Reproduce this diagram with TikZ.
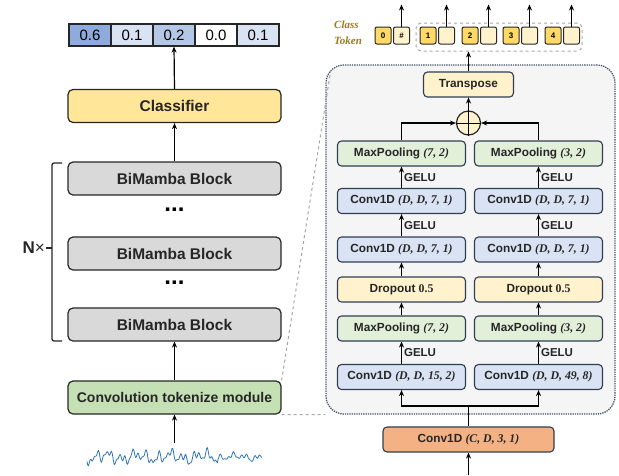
\documentclass[tikz,border=0pt]{standalone}
\usepackage{fontspec}
\setmainfont{Liberation Sans}
\newfontfamily\serifparam{Liberation Serif}
\usetikzlibrary{arrows.meta, positioning, calc}
\definecolor{inkdark}{HTML}{262626}
\definecolor{inknavy}{HTML}{2F3E52}
\definecolor{barhigh}{HTML}{8FAADC}
\definecolor{barmid}{HTML}{B4C7E7}
\definecolor{barlow}{HTML}{DAE3F3}
\definecolor{fillgold}{HTML}{FFE699}
\definecolor{fillcream}{HTML}{FFF2CC}
\definecolor{filltoken}{HTML}{FFD966}
\definecolor{fillgray}{HTML}{D9D9D9}
\definecolor{fillgreen}{HTML}{C5E0B4}
\definecolor{fillmint}{HTML}{E2F0D9}
\definecolor{fillblue}{HTML}{DAE3F3}
\definecolor{fillorange}{HTML}{F4B183}
\definecolor{panelbg}{HTML}{F5F5F5}
\definecolor{paneledge}{HTML}{44546A}
\definecolor{zoomgray}{HTML}{A6A6A6}
\definecolor{signalblue}{HTML}{2E75B6}
\definecolor{tokentext}{HTML}{9C7A1A}
\newcommand{\prm}[1]{{\serifparam\bfseries\itshape #1}}
\newcommand{\archbox}[4]{%
  \node[draw=inkdark, line width=1.2pt, rounded corners=5pt, fill=#3,
        minimum width=213pt, minimum height=33pt, inner sep=0pt,
        font=\fontsize{15.5}{18}\selectfont\bfseries, text=inkdark] (#1) at (174.5,#2) {#4};}
\newcommand{\layerbox}[5]{%
  \node[draw=inknavy, line width=1.1pt, rounded corners=4pt, fill=#4,
        minimum width=128pt, minimum height=25pt, inner sep=0pt,
        font=\fontsize{11.8}{14}\selectfont\bfseries, text=inkdark] (#1) at (#2,#3) {#5};}

\begin{document}
\begin{tikzpicture}[x=1pt, y=-1pt,
    arr/.style={-{Stealth[length=6pt, width=5pt]}, line width=1.2pt},
    gelu/.style={font=\fontsize{11.5}{13}\selectfont\bfseries, inner sep=2pt, text=inkdark},
    tok/.style={draw=inkdark, line width=1pt, rounded corners=2pt, minimum width=16pt,
                minimum height=17pt, inner sep=0pt, font=\fontsize{8}{9}\selectfont\bfseries}]
  \useasboundingbox (0,0) rectangle (619,475);

  % output scores
  \foreach \i/\v/\c in {1/0.6/barhigh, 2/0.1/barlow, 3/0.2/barmid, 4/0.0/white, 5/0.1/barlow}
    \node[draw=inkdark, line width=1.2pt, fill=\c, minimum width=42pt, minimum height=22pt,
          inner sep=0pt, font=\fontsize{15}{17}\selectfont] (c\i) at (48+42*\i,35) {\v};

  % main stack
  \archbox{cls}{106}{fillgold}{Classifier}
  \archbox{bm1}{178.5}{fillgray}{BiMamba Block}
  \node[font=\fontsize{24}{24}\selectfont\bfseries, inner sep=0pt] (dots1) at (174.5,210) {...};
  \archbox{bm2}{253.5}{fillgray}{BiMamba Block}
  \node[font=\fontsize{24}{24}\selectfont\bfseries, inner sep=0pt] (dots2) at (174.5,283) {...};
  \archbox{bm3}{324.5}{fillgray}{BiMamba Block}
  \archbox{ctm}{397.5}{fillgreen}{\fontsize{14}{16}\selectfont Convolution tokenize module}

  \draw[arr] (bm1.north) -- (cls.south);
  \draw[arr] (cls.north) -- (c3.south);
  \draw[arr] (ctm.north) -- (bm3.south);
  \coordinate (sigtop) at (174.5,443);
  \draw[arr] (sigtop) -- (ctm.south);

  % input signal
  \draw[signalblue, line width=0.8pt] plot[domain=0:175, samples=260]
    (87+\x, {457 + (1-0.45*(\x>131))*(3.5*sin(29*\x) + 2.5*sin(53*\x+40) + 2*sin(83*\x+10) + 2.5*sin(11*\x+70))});

  % repeat bracket
  \draw[line width=1.3pt, rounded corners=2pt, inkdark] (62,163) -- (52,163) -- (52,341) -- (62,341);
  \coordinate (brmid) at (52,248);
  \draw[line width=1.3pt, inkdark] (brmid) -- ++(-6,0) coordinate (brtip);
  \node[left, inner sep=1pt, font=\fontsize{17}{19}\selectfont, text=inkdark] (nrep) at (brtip) {\textbf{N}×};

  % zoomed module
  \node[draw=paneledge, densely dotted, line width=1.3pt, fill=panelbg, rounded corners=18pt,
        minimum width=289pt, minimum height=349pt, inner sep=0pt] (panel) at (470.5,239.5) {};
  \draw[zoomgray, dashed, line width=1pt] (ctm.north east) -- ($(panel.north west)+(5.5,5.5)$);
  \draw[zoomgray, dashed, line width=1pt] (ctm.south east) -- (panel.south west);

  \layerbox{l1}{401.5}{153.5}{fillmint}{MaxPooling \prm{(7, 2)}}
  \layerbox{r1}{538.5}{153.5}{fillmint}{MaxPooling \prm{(3, 2)}}
  \layerbox{l2}{401.5}{201}{fillblue}{Conv1D \prm{(D, D, 7, 1)}}
  \layerbox{r2}{538.5}{201}{fillblue}{Conv1D \prm{(D, D, 7, 1)}}
  \layerbox{l3}{401.5}{249.5}{fillblue}{Conv1D \prm{(D, D, 7, 1)}}
  \layerbox{r3}{538.5}{249.5}{fillblue}{Conv1D \prm{(D, D, 7, 1)}}
  \layerbox{l4}{401.5}{289.5}{fillcream}{Dropout {\serifparam\bfseries 0.5}}
  \layerbox{r4}{538.5}{289.5}{fillcream}{Dropout {\serifparam\bfseries 0.5}}
  \layerbox{l5}{401.5}{328.5}{fillmint}{MaxPooling \prm{(7, 2)}}
  \layerbox{r5}{538.5}{328.5}{fillmint}{MaxPooling \prm{(3, 2)}}
  \layerbox{l6}{401.5}{377}{fillblue}{Conv1D \prm{(D, D, 15, 2)}}
  \layerbox{r6}{538.5}{377}{fillblue}{Conv1D \prm{(D, D, 49, 8)}}

  \node[draw=inknavy, line width=1.1pt, rounded corners=4pt, fill=fillorange,
        minimum width=171pt, minimum height=25pt, inner sep=0pt,
        font=\fontsize{11.8}{14}\selectfont\bfseries, text=inkdark] (cin) at (468.5,439.5) {Conv1D \prm{(C, D, 3, 1)}};
  \coordinate (cinbot) at (468.5,475);
  \draw[arr] (cinbot) -- (cin.south);
  \coordinate (split) at (468.5,406);
  \draw[line width=1.2pt] (cin.north) -- (split);
  \draw[arr] (split) -| (l6.south);
  \draw[arr] (split) -| (r6.south);

  \foreach \s in {l, r} {
    \draw[arr] (\s6) -- node[gelu, right] {GELU} (\s5);
    \draw[arr] (\s5) -- (\s4);
    \draw[arr] (\s4) -- (\s3);
    \draw[arr] (\s3) -- node[gelu, right] {GELU} (\s2);
    \draw[arr] (\s2) -- node[gelu, right] {GELU} (\s1);
  }

  \node[circle, draw=inkdark, line width=1.2pt, fill=fillcream, minimum size=24pt, inner sep=0pt] (plus) at (468.5,123) {};
  \draw[line width=1pt] (plus.north) -- (plus.south) (plus.west) -- (plus.east);
  \draw[arr] (l1.north) |- (plus.west);
  \draw[arr] (r1.north) |- (plus.east);

  \node[draw=inknavy, line width=1.1pt, rounded corners=4pt, fill=fillcream,
        minimum width=90pt, minimum height=25pt, inner sep=0pt,
        font=\fontsize{11.8}{14}\selectfont\bfseries, text=inkdark] (trp) at (468.5,84.5) {Transpose};
  \draw[arr] (plus) -- (trp);

  % tokens
  \node[draw=zoomgray, dashed, line width=1pt, rounded corners=5pt,
        minimum width=166pt, minimum height=28pt, inner sep=0pt] (tokgrp) at (499,37) {};
  \draw[arr] (trp.north) -- (trp.north |- tokgrp.south);
  \node[tok, fill=filltoken] (t0) at (383,35.5) {0};
  \node[tok, fill=fillcream, right=1.5pt of t0] (e0) {\#};
  \foreach \i/\xa in {1/428, 2/470, 3/511, 4/553} {
    \node[tok, fill=filltoken] (t\i) at (\xa,35.5) {\i};
    \node[tok, fill=fillcream, right=1.5pt of t\i] (e\i) {};
  }
  \foreach \i in {0,...,4}
    \draw[arr] (e\i.north) -- ++(0,-22);
  \node[anchor=west, align=left, text=tokentext, inner sep=0pt,
        font=\serifparam\bfseries\itshape\fontsize{11}{16}\selectfont] (clslbl) at (334,33) {Class\\Token};
\end{tikzpicture}
\end{document}
